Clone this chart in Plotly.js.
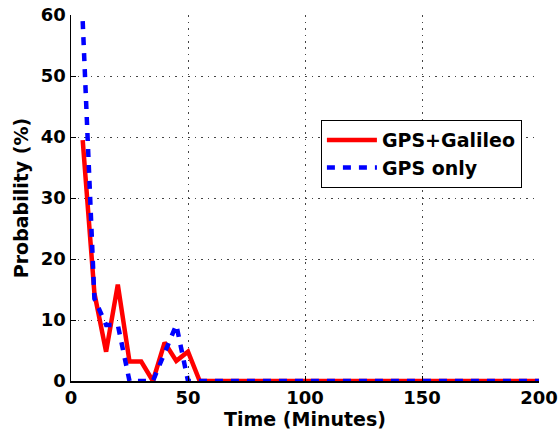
<!DOCTYPE html>
<html>
<head>
<meta charset="utf-8">
<script src="https://cdn.plot.ly/plotly-3.0.1.min.js"></script>
<style>html,body{margin:0;padding:0;background:#fff;}#chart{width:558px;height:441px;}</style>
</head>
<body>
<div id="chart"></div>
<script>
const timeMinutes = [5,10,15,20,25,30,35,40,45,50,55,60,65,70,75,80,85,90,95,100,105,110,115,120,125,130,135,140,145,150,155,160,165,170,175,180,185,190,195,200];
const gpsGalileo = [39.5,14.4,4.8,15.8,3.2,3.2,0,6.3,3.3,4.8,0,0,0,0,0,0,0,0,0,0,0,0,0,0,0,0,0,0,0,0,0,0,0,0,0,0,0,0,0,0];
const gpsOnly = [59,13.5,9.2,9.2,0,0,0,4.6,9.2,0,0,0,0,0,0,0,0,0,0,0,0,0,0,0,0,0,0,0,0,0,0,0,0,0,0,0,0,0,0,0];
const seriesNames = ["GPS+Galileo", "GPS only"];
const xTicks = [0,50,100,150,200];
const yTicks = [0,10,20,30,40,50,60];

const fontFam = "DejaVu Sans, Arial, sans-serif";
const data = [
  {x: timeMinutes, y: gpsGalileo, name: seriesNames[0], type: 'scatter', mode: 'lines',
   line: {color: '#ff0000', width: 4.5}},
  {x: timeMinutes, y: gpsOnly, name: seriesNames[1], type: 'scatter', mode: 'lines',
   line: {color: '#0000ff', width: 4.5, dash: '8px,8px'}}
];
const axisCommon = {
  showline: true, linecolor: '#000', linewidth: 1.5,
  ticks: 'inside', ticklen: 5, tickcolor: '#000', tickwidth: 1,
  showgrid: true, gridcolor: '#444', gridwidth: 1, griddash: '1.5px,5px',
  zeroline: false, mirror: false,
  tickfont: {family: fontFam, size: 18, color: '#000', weight: 'bold'}
};
const layout = {
  width: 558, height: 441,
  margin: {l: 71, r: 19, t: 15, b: 60},
  paper_bgcolor: '#fff', plot_bgcolor: '#fff',
  showlegend: true,
  legend: {x: 0.534, y: 0.713, xanchor: 'left', yanchor: 'top',
    bgcolor: '#fff', bordercolor: '#000', borderwidth: 1,
    font: {family: fontFam, size: 19, color: '#000', weight: 'bold'},
    itemwidth: 50, tracegroupgap: 0},
  xaxis: Object.assign({}, axisCommon, {
    range: [0, 200], tickvals: xTicks, ticktext: xTicks.map(String),
    title: {text: 'Time (Minutes)', standoff: 0, font: {family: fontFam, size: 19, color: '#000', weight: 'bold'}}
  }),
  yaxis: Object.assign({}, axisCommon, {
    range: [0, 60], tickvals: yTicks, ticktext: yTicks.map(String),
    title: {text: 'Probability (%)', standoff: 7, font: {family: fontFam, size: 19, color: '#000', weight: 'bold'}}
  })
};
Plotly.newPlot('chart', data, layout, {displayModeBar: false, staticPlot: true});
</script>
</body>
</html>
